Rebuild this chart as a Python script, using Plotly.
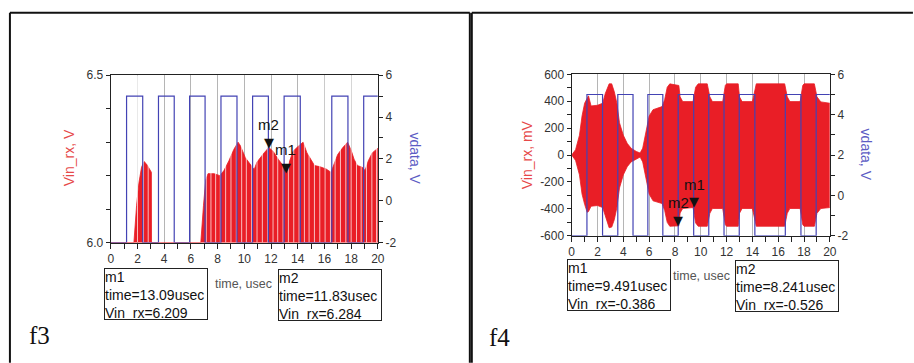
import plotly.graph_objects as go

W, H = 914, 363

# ---------------- data ----------------
# vdata square wave (same in both panels), time in usec, level in V
vdata_t = [0, 1.18, 2.39, 3.57, 4.75, 5.90, 7.06, 8.25, 9.45, 10.62, 11.80, 12.98, 14.19, 16.55, 17.76, 18.94, 20]
vdata_v = [-2, 5, -2, 5, -2, 5, -2, 5, -2, 5, -2, 5, -2, 5, -2, 5, 5]

# f3: Vin_rx envelope (V)
vin3_t = [0, 1.73, 1.93, 2.10, 2.30, 2.49, 2.67, 2.84, 2.99, 3.04, 3.05, 6.74, 6.94, 7.11, 7.28,
          7.73, 8.17, 8.47, 8.84, 9.21, 9.53, 9.70, 10.07, 10.44, 10.74, 10.94, 11.19, 11.48,
          11.83, 12.17, 12.54, 12.86, 13.09, 13.41, 13.65, 14.02, 14.40, 14.69, 15.01, 15.26,
          15.63, 16.12, 16.49, 16.74, 16.99, 17.36, 17.73, 17.98, 18.22, 18.47, 18.84, 19.04,
          19.28, 19.58, 20.0]
vin3_v = [6.0, 6.0, 6.11, 6.177, 6.225, 6.242, 6.235, 6.225, 6.215, 6.21, 6.0, 6.0, 6.11, 6.187, 6.206,
          6.206, 6.200, 6.215, 6.244, 6.278, 6.300, 6.290, 6.254, 6.235, 6.218, 6.240, 6.254, 6.268,
          6.284, 6.272, 6.249, 6.232, 6.209, 6.244, 6.273, 6.287, 6.300, 6.268, 6.244, 6.230,
          6.227, 6.220, 6.210, 6.235, 6.263, 6.283, 6.300, 6.278, 6.249, 6.230, 6.225, 6.215,
          6.244, 6.268, 6.282]
# light stripes seen inside the f3 red area (usec)
vin3_gap_t = [2.0, 2.45, 2.8, 7.15, 7.5, 7.85, 8.2, 8.6, 9.0, 9.4, 9.8, 10.15, 10.55, 10.95, 11.35,
              11.75, 12.15, 12.5, 12.9, 13.3, 13.7, 14.1, 14.5, 14.85, 15.25, 15.65, 16.05, 16.45,
              16.8, 17.2, 17.6, 18.0, 18.4, 18.75, 19.15, 19.55, 19.9]

# f4: Vin_rx envelope (mV)
vin4_t = [0, 0.3, 0.6, 0.8, 1.0, 1.2, 1.3, 1.5, 2.0, 2.4, 2.6, 2.9, 3.1, 3.3, 3.5, 3.7, 4.0, 4.3,
          4.6, 5.0, 5.3, 5.5, 5.7, 6.0, 6.3, 7.0, 7.2, 7.4, 7.6, 8.3, 8.4, 8.6, 9.4, 9.6, 9.8,
          10.5, 10.7, 10.9, 11.7, 11.9, 12.0, 12.9, 13.0, 13.2, 14.0, 14.3, 16.5, 16.7, 16.9,
          17.7, 17.9, 18.0, 18.8, 19.0, 19.3, 20.0]
vin4_hi = [0, 40, 147, 290, 385, 420, 440, 365, 370, 385, 457, 529, 529, 470, 385, 240, 147, 87,
           51, 27, 15, 51, 147, 290, 337, 360, 410, 504, 529, 517, 433, 397, 397, 504, 529,
           529, 433, 397, 397, 517, 529, 529, 433, 397, 397, 529, 529, 433, 397,
           397, 517, 529, 529, 433, 395, 385]
vin4_lo = [0, -40, -147, -290, -366, -425, -420, -380, -375, -390, -450, -540, -535, -480, -390, -245, -147, -87,
           -51, -27, -15, -51, -147, -290, -340, -360, -410, -500, -529, -526, -430, -397, -390, -504, -529,
           -529, -433, -397, -397, -517, -529, -529, -433, -397, -397, -529, -529, -433, -397,
           -397, -517, -529, -529, -433, -397, -390]

# markers
m3_name = ["m1", "m2"]
m3_t = [13.09, 11.83]
m3_v = [6.209, 6.284]
m4_name = ["m1", "m2"]
m4_t = [9.491, 8.241]
m4_v = [-386, -526]

# tick labels
x_ticks = [0, 2, 4, 6, 8, 10, 12, 14, 16, 18, 20]
y3_tickvals = [6.0, 6.1, 6.2, 6.3, 6.4, 6.5]
y3_ticktext = ["6.0", "", "", "", "", "6.5"]
yv_tickvals = [-2, -1, 0, 1, 2, 3, 4, 5, 6]
yv_ticktext = ["-2", "", "0", "", "2", "", "4", "", "6"]
y4_tickvals = [-600, -500, -400, -300, -200, -100, 0, 100, 200, 300, 400, 500, 600]
y4_ticktext = ["-600", "", "-400", "", "-200", "", "0", "", "200", "", "400", "", "600"]

# ---------------- style ----------------
RED = "#e91e26"
BLUE = "#4343b4"
AX = "#222222"
FONT = "Liberation Sans, Arial, sans-serif"


def px(x):
    return x / W


def py(y):
    return 1 - y / H


fig = go.Figure()

# ---- f3 panel ----
fig.add_trace(go.Scatter(x=vin3_t, y=vin3_v, mode="lines", line=dict(color=RED, width=0.8),
                         fill="tozeroy", fillcolor=RED, xaxis="x", yaxis="y", hoverinfo="skip"))
gx, gy = [], []
for t in vin3_gap_t:
    gx += [t, t, None]
    gy += [6.0, 6.5, None]
fig.add_trace(go.Scatter(x=gx, y=gy, mode="lines", line=dict(color="rgba(255,255,255,0.7)", width=1),
                         xaxis="x", yaxis="y", hoverinfo="skip"))
fig.add_trace(go.Scatter(x=vdata_t, y=vdata_v, mode="lines", line=dict(color=BLUE, width=1.2, shape="hv"),
                         xaxis="x", yaxis="y2", hoverinfo="skip"))

# ---- f4 panel ----
fig.add_trace(go.Scatter(x=vin4_t, y=vin4_lo, mode="lines", line=dict(color=RED, width=0.8),
                         xaxis="x2", yaxis="y3", hoverinfo="skip"))
fig.add_trace(go.Scatter(x=vin4_t, y=vin4_hi, mode="lines", line=dict(color=RED, width=0.8),
                         fill="tonexty", fillcolor=RED, xaxis="x2", yaxis="y3", hoverinfo="skip"))
fig.add_trace(go.Scatter(x=vdata_t, y=vdata_v, mode="lines", line=dict(color=BLUE, width=1.2, shape="hv"),
                         xaxis="x2", yaxis="y4", hoverinfo="skip"))

tickfont = dict(family=FONT, size=12, color="#333333")
xcommon = dict(range=[0, 20], tickvals=x_ticks, ticks="outside", ticklen=5, tickcolor=AX, tickwidth=1,
               showline=True, linecolor=AX, linewidth=1.3, mirror=True, showgrid=True,
               gridcolor="#b5b5b5", gridwidth=1, zeroline=False, tickfont=tickfont,
               minor=dict(dtick=1, tick0=0, ticks="outside", ticklen=5, tickcolor=AX, showgrid=False),
               fixedrange=True)
ycommon = dict(ticks="outside", ticklen=4, tickcolor=AX, tickwidth=1, showline=True, linecolor=AX,
               linewidth=1.3, showgrid=False, zeroline=False, tickfont=tickfont, fixedrange=True)

fig.update_layout(
    width=W, height=H, margin=dict(l=0, r=0, t=0, b=0),
    paper_bgcolor="white", plot_bgcolor="white", showlegend=False,
    font=dict(family=FONT, size=12, color="#333333"),
    xaxis=dict(domain=[px(109), px(379)], anchor="y", **xcommon),
    yaxis=dict(domain=[py(245), py(71)], anchor="x", range=[6.0, 6.5],
               tickvals=y3_tickvals, ticktext=y3_ticktext, **ycommon),
    yaxis2=dict(overlaying="y", side="right", anchor="x", range=[-2, 6],
                tickvals=yv_tickvals, ticktext=yv_ticktext, **ycommon),
    xaxis2=dict(domain=[px(575), px(836)], anchor="y3", **xcommon),
    yaxis3=dict(domain=[py(238), py(70)], anchor="x2", range=[-600, 600],
                tickvals=y4_tickvals, ticktext=y4_ticktext, **ycommon),
    yaxis4=dict(overlaying="y3", side="right", anchor="x2", range=[-2, 6],
                tickvals=yv_tickvals, ticktext=yv_ticktext, **ycommon),
)

ann = []
# axis titles
ann += [
    dict(x=px(67), y=py(157), text="Vin_rx, V", textangle=-90, font=dict(family=FONT, size=14, color="#e64848")),
    dict(x=px(417), y=py(158), text="vdata, V", textangle=90, font=dict(family=FONT, size=14, color="#5c5cc4")),
    dict(x=px(530), y=py(154), text="Vin_rx, mV", textangle=-90, font=dict(family=FONT, size=14, color="#e64848")),
    dict(x=px(872), y=py(154), text="vdata, V", textangle=90, font=dict(family=FONT, size=14, color="#5c5cc4")),
    dict(x=px(243), y=py(288), text="time, usec", font=dict(family=FONT, size=12.5, color="#555555")),
    dict(x=px(706), y=py(280), text="time, usec", font=dict(family=FONT, size=12.5, color="#555555")),
    dict(x=px(24), y=py(358), text="f3", xanchor="left", yanchor="bottom",
         font=dict(family="Liberation Serif, Times New Roman, serif", size=25, color="#111111")),
    dict(x=px(489), y=py(360), text="f4", xanchor="left", yanchor="bottom",
         font=dict(family="Liberation Serif, Times New Roman, serif", size=25, color="#111111")),
]
for a in ann:
    a.update(xref="paper", yref="paper", showarrow=False)
    a.setdefault("xanchor", "center")
    a.setdefault("yanchor", "middle")

# marker readout boxes
def box(x, y, name, t, v):
    return dict(xref="paper", yref="paper", x=px(x), y=py(y), xanchor="left", yanchor="top",
                showarrow=False, align="left", valign="top", width=102, height=50,
                bordercolor="#222222", borderwidth=1, borderpad=0, bgcolor="white",
                text=f"{name}<br>time={t}usec<br>Vin_rx={v}",
                font=dict(family=FONT, size=14, color="#111111"))

ann += [
    box(102, 271, m3_name[0], m3_t[0], m3_v[0]),
    box(278, 273, m3_name[1], m3_t[1], m3_v[1]),
    box(570, 262, m4_name[0], m4_t[0], f"{m4_v[0] / 1000:.3f}"),
    box(740, 263, m4_name[1], m4_t[1], f"{m4_v[1] / 1000:.3f}"),
]

# triangles and labels on the traces
for names, ts, vs, xr, yr in [(m3_name, m3_t, m3_v, "x", "y"), (m4_name, m4_t, m4_v, "x2", "y3")]:
    for n, t, v in zip(names, ts, vs):
        ann.append(dict(xref=xr, yref=yr, x=t, y=v, text="\u25bc", showarrow=False,
                        xanchor="center", yanchor="bottom", yshift=-4,
                        font=dict(family="DejaVu Sans", size=13, color="#111111")))
        ann.append(dict(xref=xr, yref=yr, x=t, y=v, text=n, showarrow=False,
                        xanchor="center", yanchor="middle", yshift=23,
                        font=dict(family=FONT, size=15, color="#111111")))

fig.update_layout(annotations=ann)

# panel borders
shapes = []
for (x0, y0, x1, y1) in [(7, 6, 472, 6), (7, 6, 7, 370), (472, 6, 472, 370),
                         (474, 6, 920, 6), (474, 6, 474, 370)]:
    shapes.append(dict(type="line", xref="paper", yref="paper", x0=px(x0), y0=py(y0), x1=px(x1), y1=py(y1),
                       line=dict(color="#111111", width=2)))
fig.update_layout(shapes=shapes)

fig.write_html("out.html", config={"displayModeBar": False},
               post_script="document.body.style.margin='0px';document.body.style.overflow='hidden';")
